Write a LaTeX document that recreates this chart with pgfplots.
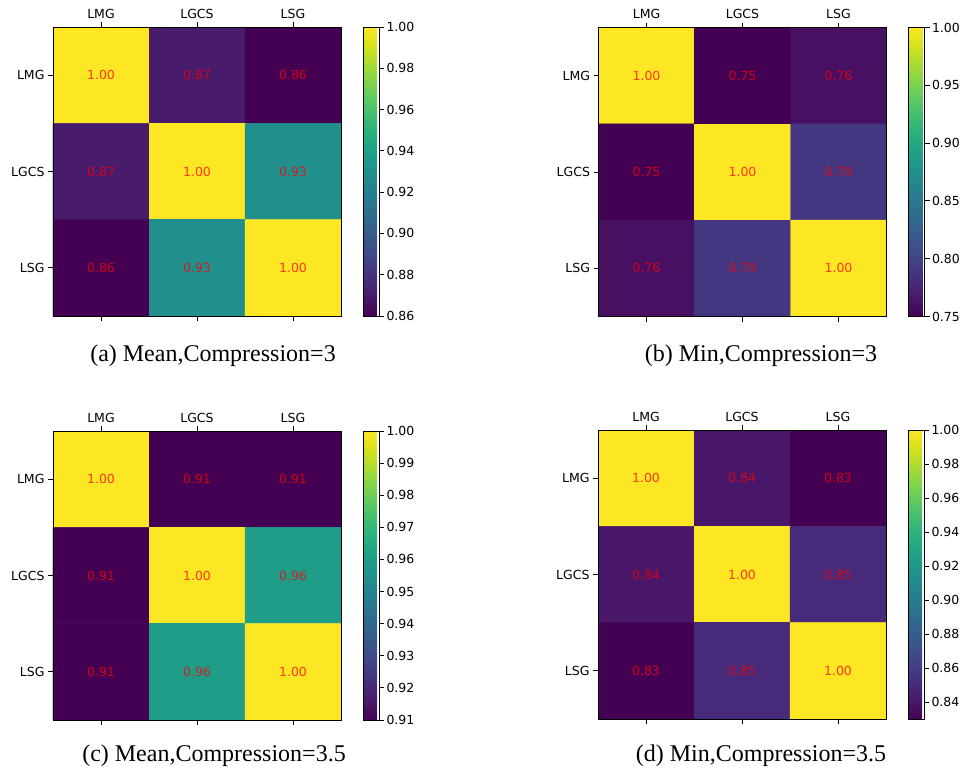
\documentclass[border=0pt]{standalone}
\usepackage{pgfplots}
\pgfplotsset{compat=1.18}
\usepackage{pgfplotstable}
\usepackage{fontspec}
\setmainfont{Liberation Serif}
\newfontfamily\dejavu{DejaVu Sans}

% correlation matrices, row by row (y=0 is the LMG row)
\pgfplotstableread{
x y c
0 0 1.00
1 0 0.87
2 0 0.86
0 1 0.87
1 1 1.00
2 1 0.93
0 2 0.86
1 2 0.93
2 2 1.00
}\dataA
\pgfplotstableread{
x y c
0 0 1.00
1 0 0.75
2 0 0.76
0 1 0.75
1 1 1.00
2 1 0.79
0 2 0.76
1 2 0.79
2 2 1.00
}\dataB
\pgfplotstableread{
x y c
0 0 1.00
1 0 0.91
2 0 0.91
0 1 0.91
1 1 1.00
2 1 0.96
0 2 0.91
1 2 0.96
2 2 1.00
}\dataC
\pgfplotstableread{
x y c
0 0 1.00
1 0 0.84
2 0 0.83
0 1 0.84
1 1 1.00
2 1 0.85
0 2 0.83
1 2 0.85
2 2 1.00
}\dataD

\newcommand\tickfont{\dejavu\fontsize{12.5}{14}\selectfont}

\pgfplotsset{
  hm/.style={
    width=288pt, height=289pt, scale only axis,
    xmin=-0.5, xmax=2.5, ymin=-0.5, ymax=2.5, y dir=reverse,
    xtick={0,1,2}, ytick={0,1,2},
    xticklabels={LMG,LGCS,LSG}, yticklabels={LMG,LGCS,LSG},
    xticklabel pos=right, xtick pos=both, ytick pos=left,
    tick align=outside, major tick length=5pt,
    tick style={black, line width=0.9pt},
    axis line style={line width=0.9pt},
    ticklabel style={font=\tickfont},
    axis on top,
    colormap name=viridis,
    colorbar,
    colorbar shift/.style={xshift=22pt},
    colorbar style={
      at={(parent axis.north east)}, anchor=north west,
      width=16pt,
      tick align=outside, major tick length=5pt,
      tick style={black, line width=0.9pt},
      axis line style={line width=0.9pt},
      ytick pos=right,
      scaled y ticks=false,
      yticklabel style={font=\tickfont, xshift=-1pt,
        /pgf/number format/.cd, fixed, fixed zerofill, precision=2,
        assume math mode=true},
    },
  },
  hmcells/.style={matrix plot*, mesh/cols=3, point meta=explicit},
  hmtext/.style={draw=none, point meta=explicit,
    nodes near coords={\pgfmathprintnumber[fixed,fixed zerofill,precision=2,assume math mode=true]{\pgfplotspointmeta}},
    nodes near coords align=center,
    every node near coord/.append style={font=\tickfont, text=red, text opacity=0.75, anchor=center}},
}

\begin{document}
\begin{tikzpicture}
\useasboundingbox (0,0) rectangle (964pt,-771pt);

\begin{axis}[hm, at={(53pt,-27pt)}, anchor=north west,
  point meta min=0.86, point meta max=1,
  colorbar style={ytick={0.86,0.88,0.90,0.92,0.94,0.96,0.98,1.00}}]
\addplot[hmcells] table[meta=c] {\dataA};
\addplot[hmtext] table[meta=c] {\dataA};
\end{axis}

\begin{axis}[hm, at={(598.5pt,-27.5pt)}, anchor=north west,
  point meta min=0.75, point meta max=1,
  colorbar style={ytick={0.75,0.80,0.85,0.90,0.95,1.00}}]
\addplot[hmcells] table[meta=c] {\dataB};
\addplot[hmtext] table[meta=c] {\dataB};
\end{axis}

\begin{axis}[hm, at={(53pt,-431pt)}, anchor=north west,
  point meta min=0.91, point meta max=1,
  colorbar style={ytick={0.91,0.92,0.93,0.94,0.95,0.96,0.97,0.98,0.99,1.00}}]
\addplot[hmcells] table[meta=c] {\dataC};
\addplot[hmtext] table[meta=c] {\dataC};
\end{axis}

\begin{axis}[hm, at={(598pt,-430pt)}, anchor=north west,
  point meta min=0.83, point meta max=1,
  colorbar style={ytick={0.84,0.86,0.88,0.90,0.92,0.94,0.96,0.98,1.00}}]
\addplot[hmcells] table[meta=c] {\dataD};
\addplot[hmtext] table[meta=c] {\dataD};
\end{axis}

\begin{scope}[font=\fontsize{24}{28}\selectfont]
\node[anchor=base] at (213pt,-361pt) {(a) Mean,Compression=3};
\node[anchor=base] at (761pt,-361pt) {(b) Min,Compression=3};
\node[anchor=base] at (214pt,-761pt) {(c) Mean,Compression=3.5};
\node[anchor=base] at (761pt,-761pt) {(d) Min,Compression=3.5};
\end{scope}
\end{tikzpicture}
\end{document}
